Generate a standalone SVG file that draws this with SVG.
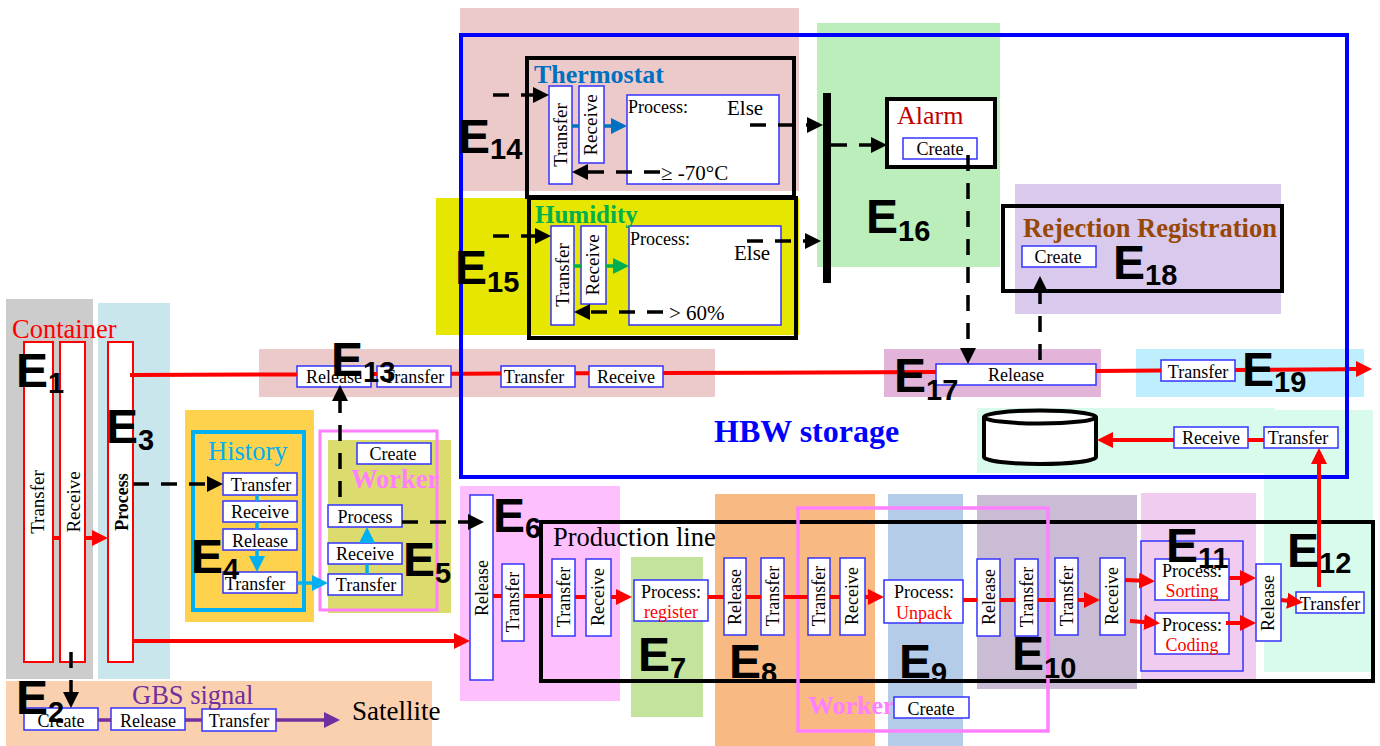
<svg xmlns="http://www.w3.org/2000/svg" width="1380" height="746" viewBox="0 0 1380 746">
<style>
text{font-family:"Liberation Serif","Times New Roman",serif;fill:#000}
.b{fill:#fff;stroke:#3333ff;stroke-width:1.5}
.c{fill:#fff;stroke:#ff0000;stroke-width:2}
.t{font-size:18px;text-anchor:middle}
.u{font-size:19px}
.r{fill:#ff0000}
.f{fill:none;stroke:#000;stroke-width:4}
.e{font-family:"Liberation Sans",Arial,sans-serif;font-weight:bold;font-size:48px}
.e tspan{font-size:29px}
.l{fill:none;stroke-width:3.5}
.red{stroke:#ff0000;stroke-width:4;marker-end:url(#ar)}
.red0{stroke:#ff0000;stroke-width:4}
.blk{stroke:#000;stroke-dasharray:16 12;marker-end:url(#ak)}
.cy{stroke:#00b0f0;marker-end:url(#ac)}
.cy0{stroke:#00b0f0}
</style>
<defs>
<marker id="ar" markerUnits="userSpaceOnUse" markerWidth="16" markerHeight="16" viewBox="0 0 16 16" refX="12" refY="8" orient="auto"><path d="M0 0L16 8L0 16z" fill="#ff0000"/></marker>
<marker id="ak" markerUnits="userSpaceOnUse" markerWidth="16" markerHeight="16" viewBox="0 0 16 16" refX="12" refY="8" orient="auto"><path d="M0 0L16 8L0 16z" fill="#000"/></marker>
<marker id="ac" markerUnits="userSpaceOnUse" markerWidth="16" markerHeight="16" viewBox="0 0 16 16" refX="12" refY="8" orient="auto"><path d="M0 0L16 8L0 16z" fill="#00b0f0"/></marker>
<marker id="ab" markerUnits="userSpaceOnUse" markerWidth="16" markerHeight="16" viewBox="0 0 16 16" refX="12" refY="8" orient="auto"><path d="M0 0L16 8L0 16z" fill="#0070c0"/></marker>
<marker id="ag" markerUnits="userSpaceOnUse" markerWidth="16" markerHeight="16" viewBox="0 0 16 16" refX="12" refY="8" orient="auto"><path d="M0 0L16 8L0 16z" fill="#00b050"/></marker>
<marker id="ap" markerUnits="userSpaceOnUse" markerWidth="16" markerHeight="16" viewBox="0 0 16 16" refX="12" refY="8" orient="auto"><path d="M0 0L16 8L0 16z" fill="#7030a0"/></marker>
</defs>
<g id="backgrounds">
<rect x="6" y="299" width="87" height="380" fill="#cccccc"/>
<rect x="98" y="303" width="72" height="376" fill="#c9e6ec"/>
<rect x="6" y="681" width="426" height="65" fill="#fbd0ae"/>
<rect x="185" y="410" width="129" height="212" fill="#ffd24d"/>
<rect x="328" y="440" width="123" height="173" fill="#dbdc6d"/>
<rect x="259" y="349" width="456" height="48" fill="#eccaca"/>
<rect x="460" y="8" width="339" height="183" fill="#eccaca"/>
<rect x="436" y="198" width="363" height="137" fill="#e6e600"/>
<rect x="817" y="23" width="183" height="244" fill="#bbeebb"/>
<rect x="1015" y="184" width="266" height="130" fill="#d9c9ec"/>
<rect x="884" y="349" width="217" height="48" fill="#e2b4d9"/>
<rect x="1136" y="349" width="228" height="48" fill="#bfeeff"/>
<rect x="977" y="408" width="298" height="65" fill="#d9fbec"/>
<rect x="1264" y="410" width="109" height="262" fill="#d9fbec"/>
<rect x="460" y="486" width="160" height="215" fill="#fdc0fd"/>
<rect x="631" y="557" width="72" height="160" fill="#c4e39c"/>
<rect x="715" y="494" width="160" height="252" fill="#f8b982"/>
<rect x="888" y="494" width="75" height="252" fill="#b5cce9"/>
<rect x="977" y="495" width="160" height="194" fill="#cbbcd6"/>
<rect x="1141" y="493" width="115" height="187" fill="#f0ccf0"/>
</g>
<g id="frames">
<rect id="frame-history" x="193" y="432" width="111" height="178" fill="none" stroke="#00b0f0" stroke-width="4"/>
<rect id="frame-worker" x="320" y="431" width="117" height="179" fill="none" stroke="#ff80ff" stroke-width="3"/>
<rect id="frame-thermostat" class="f" x="527" y="58" width="267" height="139"/>
<rect id="frame-humidity" class="f" x="529" y="198" width="267" height="140"/>
<rect id="frame-alarm" class="f" x="887" y="99" width="108" height="68" style="fill:#fff"/>
<rect id="frame-rejection" class="f" x="1003" y="206" width="279" height="85"/>
<rect id="frame-production" class="f" x="541" y="522" width="832" height="159"/>
<rect id="frame-e11" x="1141" y="541" width="102" height="130" fill="none" stroke="#3333ff" stroke-width="1.5"/>
<text x="808" y="714" font-size="26" font-weight="bold" style="fill:#ff80ff">Worker</text>
<rect id="frame-worker2" x="798" y="508" width="250" height="223" fill="none" stroke="#ff80ff" stroke-width="3.5"/>
<rect id="bar-e16" x="823" y="93" width="8" height="190" fill="#000"/>
<rect id="frame-hbw" x="461" y="35" width="886" height="442" fill="none" stroke="#0000ff" stroke-width="4"/>
</g>
<g id="container-transfer"><rect class="c" x="24" y="342" width="29" height="320"/><text class="t u" transform="rotate(-90 44 502)" x="44" y="502">Transfer</text></g>
<g id="container-receive"><rect class="c" x="60" y="342" width="25" height="320"/><text class="t u" transform="rotate(-90 80 502)" x="80" y="502">Receive</text></g>
<g id="container-process"><rect class="c" x="108" y="342" width="25" height="320"/><text class="t" font-weight="bold" transform="rotate(-90 128 502)" x="128" y="502">Process</text></g>
<g id="h-transfer"><rect class="b" x="223" y="473" width="74" height="22"/><text class="t" x="261" y="491">Transfer</text></g>
<g id="h-receive"><rect class="b" x="223" y="501" width="74" height="21"/><text class="t" x="260" y="518">Receive</text></g>
<g id="h-release"><rect class="b" x="223" y="529" width="74" height="21"/><text class="t" x="260" y="547">Release</text></g>
<g id="h-transfer2"><rect class="b" x="223" y="572" width="74" height="21"/><text class="t" x="255" y="590">Transfer</text></g>
<g id="w-create"><rect class="b" x="357" y="443" width="74" height="21"/><text class="t" x="393" y="460">Create</text></g>
<g id="w-process"><rect class="b" x="328" y="505" width="74" height="22"/><text class="t" x="365" y="523">Process</text></g>
<g id="w-receive"><rect class="b" x="328" y="543" width="74" height="21"/><text class="t" x="365" y="560">Receive</text></g>
<g id="w-transfer"><rect class="b" x="328" y="574" width="74" height="21"/><text class="t" x="366" y="591">Transfer</text></g>
<g id="e13-release"><rect class="b" x="297" y="366" width="74" height="21"/><text class="t" x="334" y="383">Release</text></g>
<g id="e13-transfer"><rect class="b" x="377" y="366" width="74" height="21"/><text class="t" x="414" y="383">Transfer</text></g>
<g id="e13-transfer2"><rect class="b" x="501" y="366" width="74" height="21"/><text class="t" x="534" y="383">Transfer</text></g>
<g id="e13-receive"><rect class="b" x="589" y="366" width="74" height="21"/><text class="t" x="626" y="383">Receive</text></g>
<g id="g-create"><rect class="b" x="24" y="708" width="74" height="22"/><text class="t" x="61" y="727">Create</text></g>
<g id="g-release"><rect class="b" x="111" y="708" width="74" height="22"/><text class="t" x="148" y="727">Release</text></g>
<g id="g-transfer"><rect class="b" x="202" y="709" width="74" height="22"/><text class="t" x="239" y="727">Transfer</text></g>
<g id="t-transfer"><rect class="b" x="549" y="86" width="23" height="98"/><text class="t u" transform="rotate(-90 567 135)" x="567" y="135">Transfer</text></g>
<g id="t-receive"><rect class="b" x="579" y="86" width="25" height="77"/><text class="t u" transform="rotate(-90 597 125)" x="597" y="125">Receive</text></g>
<g id="t-process"><rect class="b" x="627" y="95" width="152" height="89"/><text x="628" y="113" font-size="18">Process:</text><text x="727" y="115" font-size="21">Else</text><text x="661" y="180" font-size="21">≥ -70°C</text></g>
<g id="u-transfer"><rect class="b" x="551" y="226" width="23" height="99"/><text class="t u" transform="rotate(-90 569 275)" x="569" y="275">Transfer</text></g>
<g id="u-receive"><rect class="b" x="581" y="226" width="25" height="78"/><text class="t u" transform="rotate(-90 599 265)" x="599" y="265">Receive</text></g>
<g id="u-process"><rect class="b" x="629" y="226" width="152" height="99"/><text x="630" y="245" font-size="18">Process:</text><text x="734" y="260" font-size="21">Else</text><text x="669" y="320" font-size="21">&gt; 60%</text></g>
<g id="alarm-create"><rect class="b" x="903" y="138" width="74" height="21"/><text class="t" x="940" y="155">Create</text></g>
<g id="rej-create"><rect class="b" x="1022" y="246" width="74" height="21"/><text class="t" x="1058" y="263">Create</text></g>
<g id="e17-release"><rect class="b" x="936" y="364" width="160" height="21"/><text class="t" x="1016" y="381">Release</text></g>
<g id="e19-transfer"><rect class="b" x="1161" y="360" width="74" height="21"/><text class="t" x="1198" y="378">Transfer</text></g>
<g id="db"><path d="M984 417V457C984 461 1010 464 1040 464C1070 464 1096 461 1096 457V417" fill="#fff" stroke="#000" stroke-width="4"/><ellipse cx="1040" cy="417" rx="56" ry="6.5" fill="#fff" stroke="#000" stroke-width="4"/></g>
<g id="db-receive"><rect class="b" x="1174" y="427" width="74" height="21"/><text class="t" x="1211" y="444">Receive</text></g>
<g id="db-transfer"><rect class="b" x="1264" y="427" width="74" height="21"/><text class="t" x="1298" y="444">Transfer</text></g>
<g id="e6-release"><rect class="b" x="470" y="495" width="23" height="185"/><text class="t" transform="rotate(-90 488 588)" x="488" y="588">Release</text></g>
<g id="e6-transfer"><rect class="b" x="502" y="564" width="22" height="77"/><text class="t" transform="rotate(-90 519 602)" x="519" y="602">Transfer</text></g>
<g id="e6-transfer2"><rect class="b" x="552" y="559" width="23" height="77"/><text class="t" transform="rotate(-90 570 597)" x="570" y="597">Transfer</text></g>
<g id="e6-receive"><rect class="b" x="586" y="559" width="25" height="77"/><text class="t" transform="rotate(-90 604 597)" x="604" y="597">Receive</text></g>
<g id="e7-process"><rect class="b" x="634" y="580" width="74" height="41"/><text class="t" x="671" y="598">Process:</text><text class="t r" x="671" y="618">register</text></g>
<g id="e8-release"><rect class="b" x="724" y="558" width="22" height="77"/><text class="t" transform="rotate(-90 741 597)" x="741" y="597">Release</text></g>
<g id="e8-transfer"><rect class="b" x="761" y="558" width="23" height="77"/><text class="t" transform="rotate(-90 779 596)" x="779" y="596">Transfer</text></g>
<g id="e8-transfer2"><rect class="b" x="808" y="558" width="22" height="77"/><text class="t" transform="rotate(-90 825 596)" x="825" y="596">Transfer</text></g>
<g id="e8-receive"><rect class="b" x="840" y="558" width="25" height="77"/><text class="t" transform="rotate(-90 858 596)" x="858" y="596">Receive</text></g>
<g id="e9-process"><rect class="b" x="884" y="580" width="79" height="43"/><text class="t" x="924" y="598">Process:</text><text class="t r" x="924" y="619">Unpack</text></g>
<g id="e9-create"><rect class="b" x="894" y="697" width="75" height="21"/><text class="t" x="931" y="715">Create</text></g>
<g id="e10-release"><rect class="b" x="977" y="559" width="23" height="77"/><text class="t" transform="rotate(-90 995 597)" x="995" y="597">Release</text></g>
<g id="e10-transfer"><rect class="b" x="1015" y="559" width="23" height="77"/><text class="t" transform="rotate(-90 1033 597)" x="1033" y="597">Transfer</text></g>
<g id="e10-transfer2"><rect class="b" x="1055" y="558" width="23" height="77"/><text class="t" transform="rotate(-90 1073 596)" x="1073" y="596">Transfer</text></g>
<g id="e10-receive"><rect class="b" x="1100" y="558" width="25" height="77"/><text class="t" transform="rotate(-90 1118 596)" x="1118" y="596">Receive</text></g>
<g id="e11-sorting"><rect class="b" x="1155" y="559" width="74" height="41"/><text class="t" x="1192" y="577">Process:</text><text class="t r" x="1192" y="597">Sorting</text></g>
<g id="e11-coding"><rect class="b" x="1155" y="613" width="74" height="41"/><text class="t" x="1192" y="631">Process:</text><text class="t r" x="1192" y="651">Coding</text></g>
<g id="e12-release"><rect class="b" x="1256" y="564" width="25" height="77"/><text class="t" transform="rotate(-90 1274 603)" x="1274" y="603">Release</text></g>
<g id="e12-transfer"><rect class="b" x="1296" y="592" width="68" height="21"/><text class="t" x="1330" y="610">Transfer</text></g>
<g id="connectors" fill="none">
<path class="l red0" d="M130 375L297 374.4M371 374.1H377M451 373.8H459M463 373.8L501 373.6M575 373.3H589M663 373L936 372M1096 370.9L1161 370.4M1235 369.9L1345 369.2"/>
<path class="l red" d="M1349 369.1L1368 369"/>
<path class="l red" d="M133 641H466"/>
<path class="l red0" d="M53 538H60"/>
<path class="l red" d="M85 538H104"/>
<path class="l red0" d="M493 596H502M524 596H552M575 597H586"/>
<path class="l red" d="M611 597H628"/>
<path class="l red0" d="M708 597H724M746 597H761M784 597H808M830 597H840"/>
<path class="l red" d="M865 597H880"/>
<path class="l red0" d="M963 600H977M1000 600H1015M1038 600H1055"/>
<path class="l red" d="M1078 600H1096"/>
<path class="l red" d="M1125 580L1151 581"/>
<path class="l red" d="M1130 621L1156 623"/>
<path class="l red" d="M1229 578H1252"/>
<path class="l red" d="M1226 623H1252"/>
<path class="l red" d="M1281 600L1299 602"/>
<path class="l red" d="M1319 587V452"/>
<path class="l red0" d="M1264 440H1248"/>
<path class="l red" d="M1174 440H1101"/>
<path class="l cy0" d="M257 495V501M257 522V529"/>
<path class="l cy" d="M257 550V568"/>
<path class="l cy" d="M297 583H324"/>
<path class="l cy0" d="M367 574V564"/>
<path class="l cy" d="M367 543V531"/>
<path class="l" stroke="#7030a0" d="M98 720H111M185 720H202"/>
<path class="l" stroke="#7030a0" d="M276 720H336" style="marker-end:url(#ap)"/>
<path class="l" stroke="#0070c0" d="M572 126H579"/>
<path class="l" stroke="#0070c0" d="M604 126H623" style="marker-end:url(#ab)"/>
<path class="l" stroke="#00b050" d="M574 266H581"/>
<path class="l" stroke="#00b050" d="M606 266H625" style="marker-end:url(#ag)"/>
<path class="l blk" d="M133 484H219"/>
<path class="l blk" d="M402 522H480"/>
<path class="l blk" d="M340 497V389"/>
<path class="l blk" d="M71 652V704"/>
<path class="l blk" d="M493 95H545"/>
<path class="l blk" d="M660 172H576"/>
<path class="l blk" d="M750 125H819"/>
<path class="l blk" d="M493 236H547"/>
<path class="l blk" d="M663 312H578"/>
<path class="l blk" d="M747 241H817"/>
<path class="l blk" d="M831 145H883"/>
<path class="l blk" d="M968 155V360"/>
<path class="l blk" d="M1040 360V280"/>
</g>
<g id="titles">
<text x="12" y="338" font-size="26.5" style="fill:#ff0000">Container</text>
<text x="208" y="460" font-size="26.5" style="fill:#00b0f0">History</text>
<text x="351" y="488" font-size="26.5" font-weight="bold" style="fill:#ff80ff">Worker</text>
<text x="132" y="704" font-size="26.5" style="fill:#7030a0">GBS signal</text>
<text x="352" y="720" font-size="27">Satellite</text>
<text x="534" y="83" font-size="26" font-weight="bold" style="fill:#0070c0">Thermostat</text>
<text x="535" y="223" font-size="25" font-weight="bold" style="fill:#00b050">Humidity</text>
<text x="897" y="124" font-size="26" style="fill:#c00000">Alarm</text>
<text x="1023" y="237" font-size="26.5" font-weight="bold" style="fill:#984806">Rejection Registration</text>
<text x="714" y="442" font-size="32" font-weight="bold" style="fill:#0000ff">HBW storage</text>
<text x="553" y="546" font-size="26.5">Production line</text>
</g>
<g id="labels">
<text class="e" x="16" y="387">E<tspan dy="6">1</tspan></text>
<text class="e" x="106" y="443">E<tspan dy="7">3</tspan></text>
<text class="e" x="16" y="714">E<tspan dy="8">2</tspan></text>
<text class="e" x="191" y="573">E<tspan dy="6">4</tspan></text>
<text class="e" x="403" y="576">E<tspan dy="7">5</tspan></text>
<text class="e" x="331" y="376">E<tspan dy="6">13</tspan></text>
<text class="e" x="458" y="153">E<tspan dy="6">14</tspan></text>
<text class="e" x="455" y="284">E<tspan dy="8">15</tspan></text>
<text class="e" x="866" y="233">E<tspan dy="8">16</tspan></text>
<text class="e" x="1113" y="279">E<tspan dy="6">18</tspan></text>
<text class="e" x="894" y="392">E<tspan dy="8">17</tspan></text>
<text class="e" x="1242" y="386">E<tspan dy="6">19</tspan></text>
<text class="e" x="493" y="532">E<tspan dy="6">6</tspan></text>
<text class="e" x="638" y="671">E<tspan dy="7">7</tspan></text>
<text class="e" x="729" y="678">E<tspan dy="5">8</tspan></text>
<text class="e" x="899" y="678">E<tspan dy="5">9</tspan></text>
<text class="e" x="1012" y="670">E<tspan dy="8">10</tspan></text>
<text class="e" x="1166" y="562">E<tspan dy="6">11</tspan></text>
<text class="e" x="1287" y="567">E<tspan dy="6">12</tspan></text>
</g>
</svg>
